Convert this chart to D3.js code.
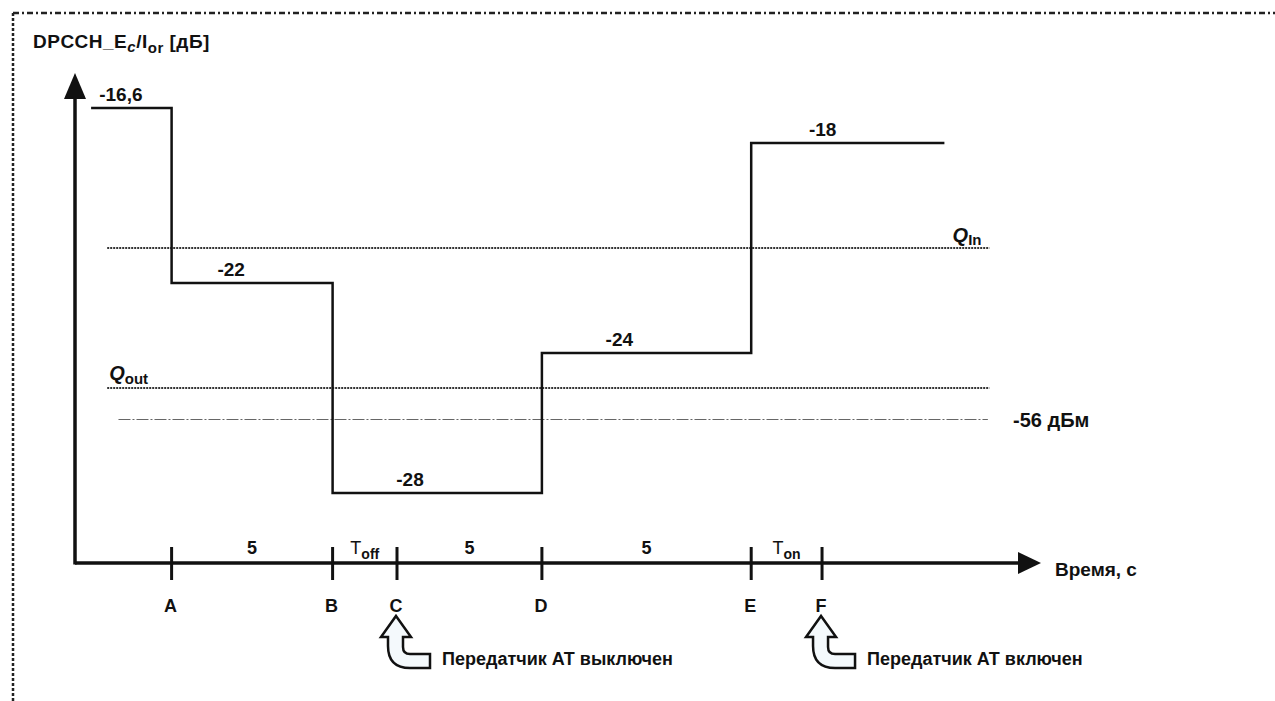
<!DOCTYPE html>
<html>
<head>
<meta charset="utf-8">
<script src="https://cdn.jsdelivr.net/npm/d3@7"></script>
<style>
  body { margin: 0; background: #fff; }
  text { font-family: "Liberation Sans", Arial, sans-serif; font-weight: bold; fill: #111; }
</style>
</head>
<body>
<div id="chart"></div>
<script>
// events on the time axis
const eventNames = ["A", "B", "C", "D", "E", "F"];
const eventTimes = [3, 8, 10, 14.5, 21, 23.2];
// labels of the intervals between consecutive events
const intervalLabels = ["5", "T|off", "5", "5", "T|on"];

// DPCCH Ec/Ior steps
const stepStarts = [0.5, 3, 8, 14.5, 21];
const stepEnds = [3, 8, 14.5, 21, 27];
const stepLevels = [-16.6, -22, -28, -24, -18];
const stepLabels = ["-16,6", "-22", "-28", "-24", "-18"];

// reference levels
const qIn = -21;
const qOut = -25;
const sensLevel = -25.9;
const sensLabel = "-56 дБм";

const notes = [
  { at: "C", text: "Передатчик АТ выключен" },
  { at: "F", text: "Передатчик АТ включен" },
];

const width = 1275;
const height = 701;

const svg = d3.select("#chart")
  .append("svg")
  .attr("width", width)
  .attr("height", height);

// dashed frame
svg.append("line")
  .attr("x1", 13).attr("y1", 13).attr("x2", width).attr("y2", 13)
  .style("stroke", "#222").style("stroke-width", 2.5)
  .style("stroke-dasharray", "6,3,2,3");
svg.append("line")
  .attr("x1", 13).attr("y1", 13).attr("x2", 13).attr("y2", height)
  .style("stroke", "#222").style("stroke-width", 2.5)
  .style("stroke-dasharray", "3,2");

const x = d3.scaleLinear().domain([0, 30]).range([75, 1041]);
// schematic: compressed above -18
const y = d3.scaleLinear().domain([-30, -18, -16.6, -15.2]).range([563, 143, 108, 73]);

const x0 = x(0), y0 = y(-30);

// axes
svg.append("line")
  .attr("x1", x0).attr("y1", y0).attr("x2", x(29.3)).attr("y2", y0)
  .style("stroke", "#111").style("stroke-width", 3.5);
svg.append("line")
  .attr("x1", x0).attr("y1", y0 + 1.5).attr("x2", x0).attr("y2", y(-15.2) + 20)
  .style("stroke", "#111").style("stroke-width", 3.5);
svg.append("path")
  .attr("d", `M${x(30)},${y0} L${x(30) - 23},${y0 - 11} L${x(30) - 23},${y0 + 11} Z`)
  .style("fill", "#111");
svg.append("path")
  .attr("d", `M${x0},${y(-15.2)} L${x0 - 11},${y(-15.2) + 26} L${x0 + 11},${y(-15.2) + 26} Z`)
  .style("fill", "#111");

svg.append("text")
  .attr("x", 1055).attr("y", 576)
  .style("font-size", "19px")
  .text("Время, с");

// y title
const title = svg.append("text").attr("x", 33).attr("y", 48)
  .style("font-size", "19px").style("letter-spacing", "0.5px");
title.append("tspan").text("DPCCH_E");
title.append("tspan").attr("dy", 4).style("font-size", "15px").style("font-style", "italic").text("c");
title.append("tspan").attr("dy", -4).text("/I");
title.append("tspan").attr("dy", 5).style("font-size", "15px").text("or");
title.append("tspan").attr("dy", -5).text(" [дБ]");

// reference lines
const refG = svg.append("g");
[qIn, qOut].forEach((v) => {
  refG.append("line")
    .attr("x1", x(1)).attr("x2", x(28.4))
    .attr("y1", y(v)).attr("y2", y(v))
    .style("stroke", "#333").style("stroke-width", 2)
    .style("stroke-dasharray", "2,1");
});
refG.append("line")
  .attr("x1", x(1.35)).attr("x2", x(28.35))
  .attr("y1", y(sensLevel)).attr("y2", y(sensLevel))
  .style("stroke", "#666").style("stroke-width", 1)
  .style("stroke-dasharray", "12,2,2,2");

const qInLabel = refG.append("text")
  .attr("x", x(28.4) - 8).attr("y", y(qIn) - 6)
  .attr("text-anchor", "end").style("font-size", "20px");
qInLabel.append("tspan").style("font-style", "italic").text("Q");
qInLabel.append("tspan").attr("dy", 3).style("font-size", "15px").text("In");

const qOutLabel = refG.append("text")
  .attr("x", x(1) + 2).attr("y", y(qOut) - 8)
  .style("font-size", "20px");
qOutLabel.append("tspan").style("font-style", "italic").text("Q");
qOutLabel.append("tspan").attr("dy", 4).style("font-size", "15px").text("out");

refG.append("text")
  .attr("x", 1013).attr("y", y(sensLevel) + 7)
  .style("font-size", "20px")
  .text(sensLabel);

// step line
const pts = [];
stepLevels.forEach((v, i) => {
  pts.push([stepStarts[i], v]);
  pts.push([stepEnds[i], v]);
});
const line = d3.line().x((d) => x(d[0])).y((d) => y(d[1]));
svg.append("path")
  .datum(pts)
  .attr("d", line)
  .style("fill", "none")
  .style("stroke", "#111")
  .style("stroke-width", 2.5);

svg.append("g")
  .selectAll("text")
  .data(stepLevels)
  .enter()
  .append("text")
  .attr("x", (d, i) => x(stepStarts[i]) + 0.37 * (x(stepEnds[i]) - x(stepStarts[i])))
  .attr("y", (d) => y(d) - 7)
  .attr("text-anchor", "middle")
  .style("font-size", "19px")
  .text((d, i) => stepLabels[i]);

// ticks and event letters
const tickG = svg.append("g");
tickG.selectAll("line")
  .data(eventTimes)
  .enter()
  .append("line")
  .attr("x1", (d) => x(d)).attr("x2", (d) => x(d))
  .attr("y1", y0 - 16).attr("y2", y0 + 17)
  .style("stroke", "#111").style("stroke-width", 3);
tickG.selectAll("text")
  .data(eventNames)
  .enter()
  .append("text")
  .attr("x", (d, i) => x(eventTimes[i]) - 1)
  .attr("y", y0 + 49)
  .attr("text-anchor", "middle")
  .style("font-size", "18px")
  .text((d) => d);

// interval labels
const intG = svg.append("g");
intervalLabels.forEach((lab, i) => {
  const cx = (x(eventTimes[i]) + x(eventTimes[i + 1])) / 2;
  const parts = lab.split("|");
  const t = intG.append("text")
    .attr("x", cx).attr("y", y0 - 9)
    .attr("text-anchor", "middle")
    .style("font-size", "18px");
  t.append("tspan").style("font-weight", parts.length > 1 ? "normal" : "bold").text(parts[0]);
  if (parts.length > 1) {
    t.append("tspan").attr("dy", 5).style("font-size", "14px").text(parts[1]);
  }
});

// curved hollow arrows with notes
const arrowPath = "M0,0 L15,21 L7,21 L7,31 Q7,38 14,38 L34,38 L34,52 L14,52 Q-8,52 -8,30 L-8,21 L-15,21 Z";
notes.forEach((n) => {
  const ex = x(eventTimes[eventNames.indexOf(n.at)]);
  const g = svg.append("g").attr("transform", `translate(${ex - 1},${y0 + 53})`);
  g.append("path")
    .attr("d", arrowPath)
    .style("fill", "#f4f9fc")
    .style("stroke", "#111")
    .style("stroke-width", 2.5)
    .style("stroke-linejoin", "miter");
  g.append("text")
    .attr("x", 46).attr("y", 49)
    .style("font-size", "18px")
    .text(n.text);
});
</script>
</body>
</html>
